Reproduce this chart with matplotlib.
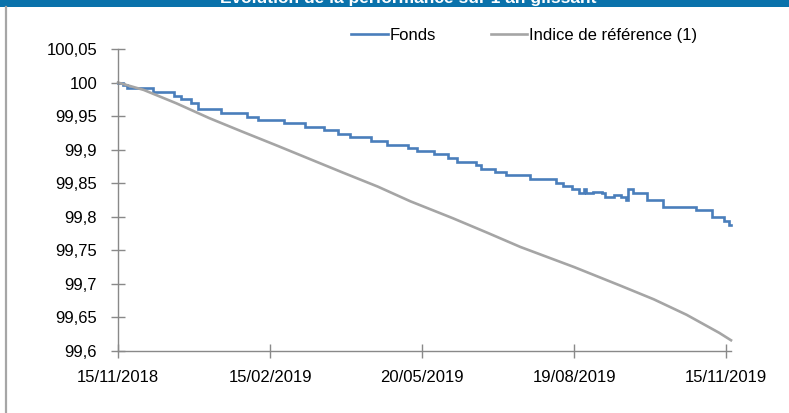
import matplotlib
matplotlib.use("Agg")
import matplotlib.pyplot as plt
from matplotlib.lines import Line2D

plt.rcParams['font.family'] = ['Liberation Sans', 'DejaVu Sans']

# category axis: one point per business day, 0 .. 262
tick_pos = [0, 65, 130, 195, 260]
tick_labels = ['15/11/2018', '15/02/2019', '20/05/2019', '19/08/2019', '15/11/2019']

# Fonds: index where a new level starts, and the level
fonds_x = [0, 2, 4, 15, 24, 27, 31, 34, 44, 55, 60, 71, 80, 88, 94, 99, 108, 115,
           124, 128, 135, 141, 145, 153, 155, 161, 166, 176, 187, 190, 194, 197,
           199, 200, 203, 207, 208, 212, 215, 217, 218, 220, 226, 233, 247, 254,
           259, 261, 262]
fonds_y = [100.000, 99.996, 99.992, 99.986, 99.980, 99.975, 99.970, 99.961, 99.955,
           99.949, 99.944, 99.940, 99.934, 99.929, 99.923, 99.919, 99.913, 99.907,
           99.902, 99.898, 99.894, 99.888, 99.882, 99.877, 99.871, 99.867, 99.862,
           99.856, 99.850, 99.846, 99.841, 99.835, 99.841, 99.835, 99.837, 99.835,
           99.829, 99.832, 99.829, 99.825, 99.841, 99.835, 99.825, 99.815, 99.810,
           99.800, 99.794, 99.788, 99.788]

# Indice de reference (1)
indice_x = [0, 11, 25, 39, 53, 68, 82, 96, 111, 125, 143, 158, 172, 195, 215, 229,
            243, 257, 262]
indice_y = [100.000, 99.989, 99.969, 99.947, 99.927, 99.906, 99.886, 99.866, 99.845,
            99.823, 99.798, 99.776, 99.755, 99.725, 99.697, 99.677, 99.654, 99.627,
            99.616]

y_ticks = [99.6, 99.65, 99.7, 99.75, 99.8, 99.85, 99.9, 99.95, 100.0, 100.05]

blue = '#4a7ebb'
grey = '#a5a5a5'
axis_col = '#898989'

fig = plt.figure(figsize=(7.89, 4.13), dpi=100)

# title band (cut off at top of the picture)
fig.patches.append(plt.Rectangle((0, 1 - 6.5 / 413), 1, 6.5 / 413, transform=fig.transFigure,
                                 facecolor='#0a72ab', edgecolor='none', zorder=0))
fig.text(0.518, 1 - 3.5 / 413, 'Evolution de la performance sur 1 an glissant',
         ha='center', va='baseline', color='white', fontsize=12.5, fontweight='bold')
# left frame border
fig.add_artist(Line2D([5.5 / 789, 5.5 / 789], [0, 1 - 6.5 / 413], transform=fig.transFigure,
                      color='#a6a6a6', lw=1.6))

ax = fig.add_axes([118 / 789, 1 - 351 / 413, (731 - 118) / 789, (351 - 49) / 413])
ax.plot(fonds_x, fonds_y, color=blue, lw=1.9, drawstyle='steps-post', label='Fonds',
        solid_joinstyle='miter', clip_on=False)
ax.plot(indice_x, indice_y, color=grey, lw=1.9, label='Indice de référence (1)',
        clip_on=False)

ax.set_xlim(0, 262)
ax.set_ylim(99.6, 100.05)
ax.set_yticks(y_ticks)
ax.set_yticklabels([('%g' % v).replace('.', ',') for v in y_ticks])
ax.set_xticks(tick_pos)
ax.set_xticklabels(tick_labels)

for s in ['top', 'right']:
    ax.spines[s].set_visible(False)
for s in ['left', 'bottom']:
    ax.spines[s].set_color(axis_col)
    ax.spines[s].set_linewidth(1.0)
ax.tick_params(axis='both', direction='inout', length=10, width=1.0, color=axis_col,
               labelsize=12, labelcolor='black')
ax.tick_params(axis='y', pad=10)
ax.tick_params(axis='x', pad=9)
ax.set_facecolor('none')

leg = ax.legend(loc='lower left', bbox_to_anchor=(351 / 789, 1 - 43 / 413), bbox_transform=fig.transFigure,
                ncol=2, frameon=False, fontsize=12, handlelength=2.2, handletextpad=0.1,
                columnspacing=3.3, borderpad=0, borderaxespad=0)

fig.savefig('out.png', dpi=100)
